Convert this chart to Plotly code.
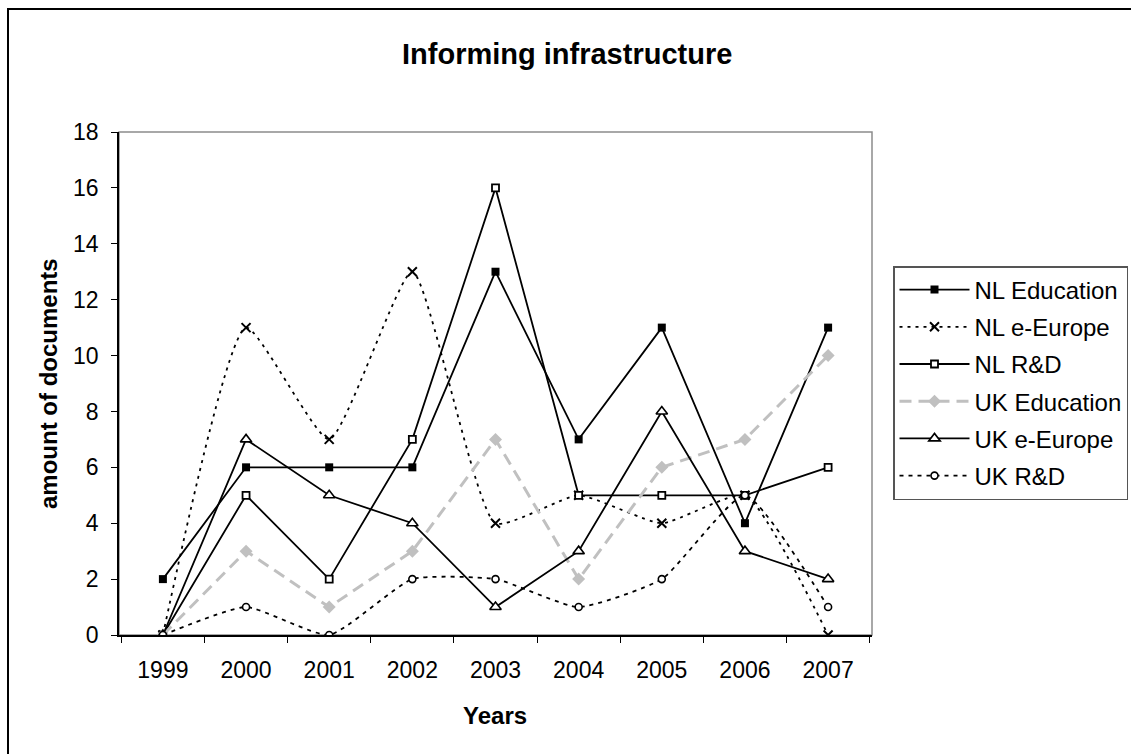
import plotly.graph_objects as go

# Chart data
years = ["1999", "2000", "2001", "2002", "2003", "2004", "2005", "2006", "2007"]
nl_education = [2, 6, 6, 6, 13, 7, 11, 4, 11]
nl_eeurope = [0, 11, 7, 13, 4, 5, 4, 5, 0]
nl_rd = [0, 5, 2, 7, 16, 5, 5, 5, 6]
uk_education = [0, 3, 1, 3, 7, 2, 6, 7, 10]
uk_eeurope = [0, 7, 5, 4, 1, 3, 8, 3, 2]
uk_rd = [0, 1, 0, 2, 2, 1, 2, 5, 1]
y_ticks = [0, 2, 4, 6, 8, 10, 12, 14, 16, 18]

W, H = 1131, 754
L, R, T, B = 119, 872, 132, 635  # plot area in pixels

def px(x):
    return (x - L) / (R - L)

def py(y):
    return (B - y) / (B - T)

FONT = "Arial, Liberation Sans, sans-serif"

fig = go.Figure()

def add(name, values, color, dash, width, symbol, size, fill, mline, shape="linear"):
    fig.add_trace(go.Scatter(
        x=years, y=values, name=name, mode="lines+markers",
        legendgroup=name,
        line=dict(color=color, dash=dash, width=width, shape=shape, smoothing=0.5),
        marker=dict(symbol=symbol, size=size, color=fill,
                    line=dict(color=color, width=mline)),
    ))

add("NL Education", nl_education, "black", "solid", 1.8, "square", 8, "black", 0)
add("NL e-Europe", nl_eeurope, "black", "3px,5px", 1.8, "x-thin", 9, "black", 2, shape="spline")
add("NL R&D", nl_rd, "black", "solid", 1.8, "square", 7, "white", 1.8)
add("UK Education", uk_education, "#c0c0c0", "12px,7px", 3, "diamond", 10, "#c0c0c0", 0)
add("UK e-Europe", uk_eeurope, "black", "solid", 1.8, "triangle-up", 10, "white", 1.6)
add("UK R&D", uk_rd, "black", "4px,5px", 1.8, "circle", 7, "white", 1.6, shape="spline")

fig.update_layout(
    width=W, height=H,
    margin=dict(l=L, r=W - R, t=T, b=H - B, autoexpand=False),
    paper_bgcolor="white", plot_bgcolor="white",
    font=dict(family=FONT, size=23, color="black"),
    showlegend=True,
    legend=dict(
        x=px(893), y=py(266), xanchor="left", yanchor="top",
        bgcolor="white", bordercolor="#555555", borderwidth=1.5,
        font=dict(family=FONT, size=24, color="black"),
        itemwidth=70, tracegroupgap=3,
    ),
    xaxis=dict(
        type="category", tickson="boundaries", ticks="outside", ticklen=6,
        tickcolor="black", showline=True, linecolor="black", linewidth=1.5,
        showgrid=False, zeroline=False, tickfont=dict(size=23),
        ticklabelstandoff=14,
    ),
    yaxis=dict(
        range=[0, 18], tickvals=y_ticks, ticks="outside", ticklen=6,
        tickcolor="black", showline=True, linecolor="black", linewidth=1.5,
        showgrid=False, zeroline=False, tickfont=dict(size=23),
        ticklabelstandoff=8,
    ),
    shapes=[
        # outer chart frame
        dict(type="rect", xref="paper", yref="paper",
             x0=px(8), x1=px(1131 + 20), y0=py(754 + 20), y1=py(9),
             line=dict(color="black", width=2), layer="below"),
        # plot area frame
        dict(type="rect", xref="paper", yref="paper",
             x0=0, x1=1, y0=0, y1=1,
             line=dict(color="#8c8c8c", width=1.5), layer="below"),
    ],
    annotations=[
        dict(text="<b>Informing infrastructure</b>", xref="paper", yref="paper",
             x=px(567), y=py(54), xanchor="center", yanchor="middle",
             showarrow=False, font=dict(size=29)),
        dict(text="<b>amount of documents</b>", xref="paper", yref="paper",
             x=px(48), y=py(384), xanchor="center", yanchor="middle",
             textangle=-90, showarrow=False, font=dict(size=24)),
        dict(text="<b>Years</b>", xref="paper", yref="paper",
             x=px(495), y=py(715), xanchor="center", yanchor="middle",
             showarrow=False, font=dict(size=24)),
    ],
)

fig.write_html("out.html")
